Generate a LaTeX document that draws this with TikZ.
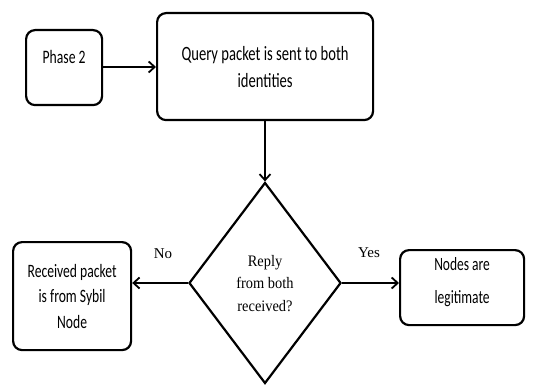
\documentclass[tikz,border=0pt]{standalone}
\usepackage{fontspec}
\setmainfont{Carlito}[FakeStretch=0.72]
\newfontfamily\serifb{Liberation Serif}
\newfontfamily\serifd{Liberation Serif}[FakeStretch=0.9]
\usetikzlibrary{arrows.meta,shapes.geometric}
\begin{document}
\begin{tikzpicture}[x=1pt,y=-1pt,
  box/.style={draw,line width=2.2pt,rounded corners=9pt,align=center,inner sep=0pt},
  arr/.style={line width=2.2pt,-{Straight Barb[length=6pt,width=11pt,line width=1.8pt]}},
  lbl/.style={font=\serifb\fontsize{15}{17}\selectfont}]
\useasboundingbox (0,0) rectangle (544,385);
\node[box,minimum width=76pt,minimum height=75pt,font=\fontsize{19}{20}\selectfont,anchor=north west,text depth=22pt] (p2) at (25,29) {Phase 2};
\node[box,minimum width=216pt,minimum height=107pt,font=\fontsize{20.3}{27}\selectfont,anchor=north west] (q) at (156,12) {Query packet is sent to both\\identities};
\node[draw,line width=2.2pt,diamond,minimum width=152pt,minimum height=201pt,inner sep=0pt,align=center,font=\serifd\fontsize{16}{22.5}\selectfont,text depth=0pt] (d) at (265,283) {Reply\\from both\\received?};
\node[box,minimum width=118pt,minimum height=108pt,font=\fontsize{18.9}{25.5}\selectfont,anchor=north west] (l) at (12,241) {Received packet\\is from Sybil\\Node};
\node[box,minimum width=124pt,minimum height=75pt,font=\fontsize{18.75}{33}\selectfont,anchor=north west,text depth=15pt] (r) at (399,249) {Nodes are\\legitimate};
\draw[arr] (p2.east |- 0,67) -- (q.west |- 0,67);
\draw[arr] (q.south -| d.north) -- (d.north);
\draw[arr] (d.west) -- (l.east |- d.west);
\draw[arr] (d.east) -- (r.west |- d.east);
\node[lbl] (no) at (163,254) {No};
\node[lbl] (yes) at (369,253) {Yes};
\end{tikzpicture}
\end{document}
